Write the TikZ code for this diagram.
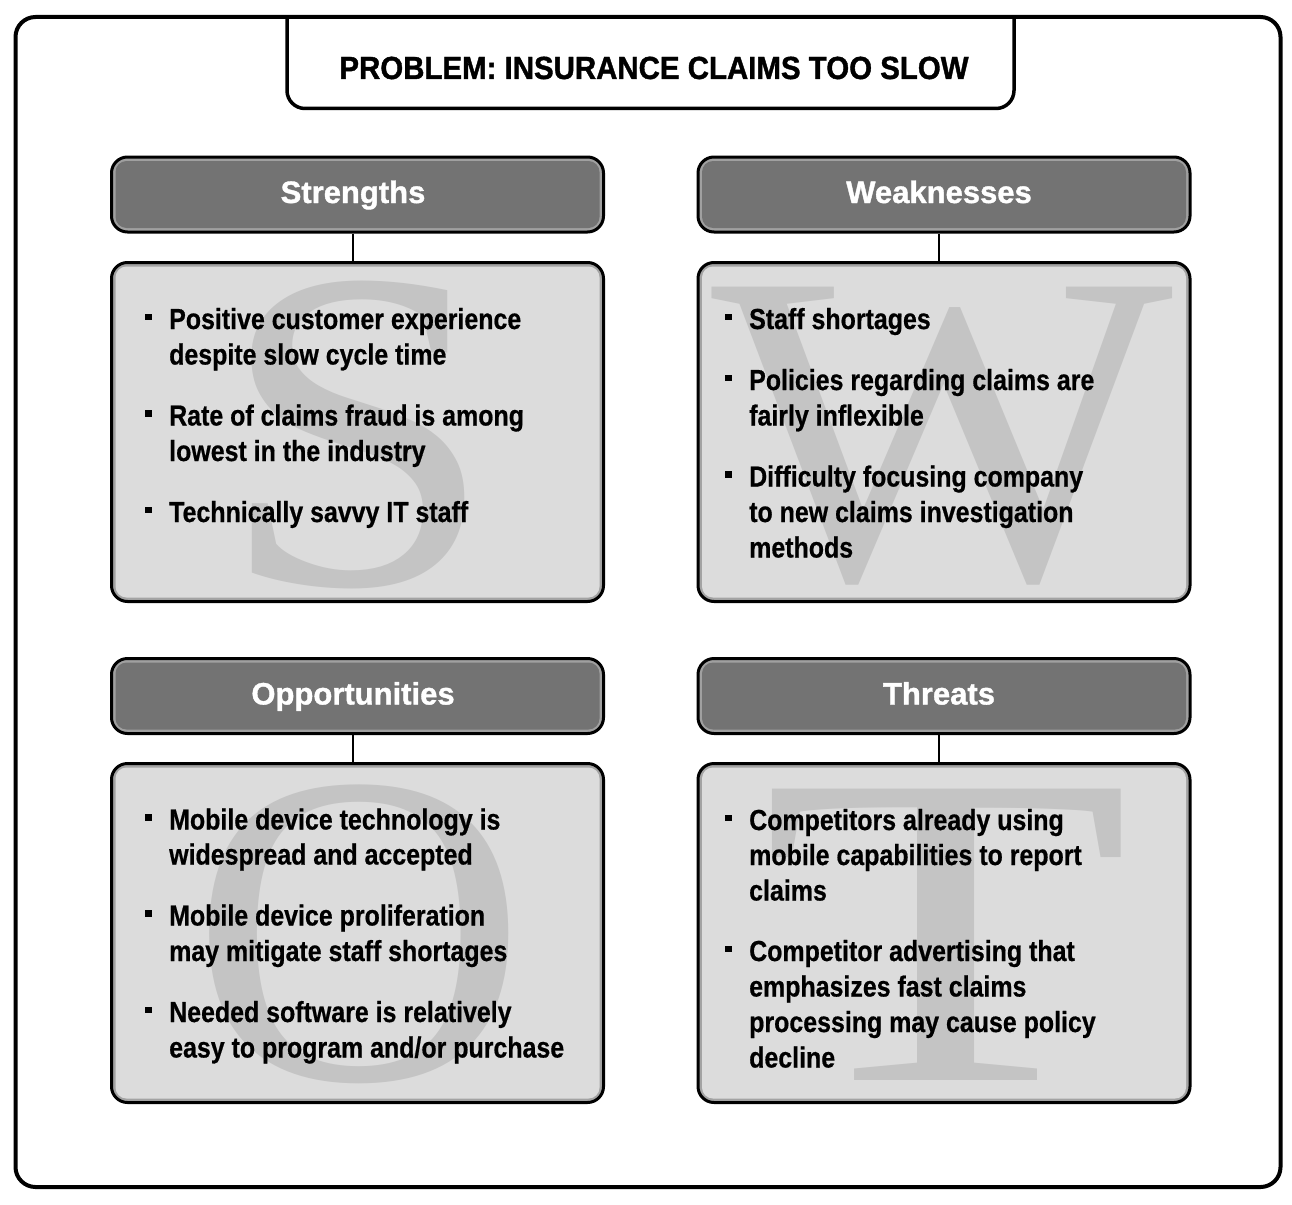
\documentclass[tikz,border=0pt]{standalone}
\usepackage{fontspec}
\setmainfont{Liberation Sans}
\newfontfamily\bodyfont{Liberation Sans}[FakeStretch=0.86,FakeBold=0.6]
\newfontfamily\headfont{Liberation Sans}[FakeStretch=0.92,FakeBold=1.2]
\newfontfamily\titlefont{Liberation Sans}[FakeBold=1.2]
\newfontfamily\wmfont{Liberation Serif}
\definecolor{titlefill}{HTML}{737373}
\definecolor{titlerim}{HTML}{A0A0A0}
\definecolor{bodyfill}{HTML}{DCDCDC}
\definecolor{bodyrim}{HTML}{A3A3A3}
\definecolor{wmcolor}{HTML}{C4C4C4}
\tikzset{
  framebox/.style={draw=black, line width=4pt, rounded corners=20pt, fill=white},
  titlebox/.style={draw=black, line width=3pt, rounded corners=16pt, fill=titlerim,
    minimum width=492pt, minimum height=75pt, inner sep=0pt},
  contentbox/.style={draw=black, line width=3pt, rounded corners=16pt, fill=bodyrim,
    minimum width=492pt, minimum height=339pt, inner sep=0pt},
  titletxt/.style={anchor=base, inner sep=0pt, text=white, font={\titlefont\bfseries\fontsize{31}{36}\selectfont}},
  headtxt/.style={anchor=base, inner sep=0pt, text=black, font={\headfont\bfseries\fontsize{32}{38}\selectfont}},
  bodytxt/.style={anchor=base west, inner sep=0pt, text=black, font={\bodyfont\bfseries\fontsize{29}{35}\selectfont}},
  wmtxt/.style={anchor=base, inner sep=0pt, text=wmcolor, font={\wmfont\fontsize{445}{445}\selectfont}},
  connector/.style={draw=black, line width=2.5pt},
}
\newcommand{\bodyline}[4]{\node[bodytxt] (#1) at (#2,#3) {#4};}
\newcommand{\bulletsq}[2]{\fill[black] (#1,#2-15.5) rectangle ++(6.5,6.5);}
\newcommand{\innerfill}[2]{\fill[#2, rounded corners=11pt] ([xshift=5.5pt,yshift=-5.5pt]#1.north west) rectangle ([xshift=-5.5pt,yshift=5.5pt]#1.south east);}
\begin{document}
\begin{tikzpicture}[x=1pt,y=-1pt]
\useasboundingbox[fill=white] (0,0) rectangle (1292,1204);
% outer frame
\node[framebox, minimum width=1265pt, minimum height=1170pt, inner sep=0pt] (frame) at (648,602) {};
% header
\draw[line width=3.5pt, rounded corners=18pt] (287,16) -- (287,108.5) -- (1014,108.5) -- (1014,16);
\node[headtxt] (header) at (654,79) {PROBLEM: INSURANCE CLAIMS TOO SLOW};

% ---------- Strengths ----------
\node[titlebox] (st) at (357.5,194.5) {};
\innerfill{st}{titlefill}
\node[titletxt] (stl) at (353,203) {Strengths};
\node[contentbox] (sc) at (357.5,432) {};
\innerfill{sc}{bodyfill}
\draw[connector] ([xshift=-4.5pt]st.south) -- ([xshift=-4.5pt]sc.north);
\node[wmtxt] (sw) at (357.5,584) {\scalebox{1.12}[1.03]{S}};
\bulletsq{145}{329}
\bodyline{s1a}{169}{329}{Positive customer experience}
\bodyline{s1b}{169}{364.5}{despite slow cycle time}
\bulletsq{145}{425.5}
\bodyline{s2a}{169}{425.5}{Rate of claims fraud is among}
\bodyline{s2b}{169}{461}{lowest in the industry}
\bulletsq{145}{522}
\bodyline{s3a}{169}{522}{Technically savvy IT staff}

% ---------- Weaknesses ----------
\node[titlebox] (wt) at (944,194.5) {};
\innerfill{wt}{titlefill}
\node[titletxt] (wtl) at (939,203) {Weaknesses};
\node[contentbox] (wc) at (944,432) {};
\innerfill{wc}{bodyfill}
\draw[connector] ([xshift=-5pt]wt.south) -- ([xshift=-5pt]wc.north);
\node[wmtxt] (ww) at (942.5,578) {\scalebox{1.1}[1.0]{W}};
\bulletsq{725}{329}
\bodyline{w1a}{749}{329}{Staff shortages}
\bulletsq{725}{390}
\bodyline{w2a}{749}{390}{Policies regarding claims are}
\bodyline{w2b}{749}{425.5}{fairly inflexible}
\bulletsq{725}{486.5}
\bodyline{w3a}{749}{486.5}{Difficulty focusing company}
\bodyline{w3b}{749}{522}{to new claims investigation}
\bodyline{w3c}{749}{557.5}{methods}

% ---------- Opportunities ----------
\node[titlebox] (ot) at (357.5,696) {};
\innerfill{ot}{titlefill}
\node[titletxt] (otl) at (353,704.5) {Opportunities};
\node[contentbox] (oc) at (357.5,933) {};
\innerfill{oc}{bodyfill}
\draw[connector] ([xshift=-4.5pt]ot.south) -- ([xshift=-4.5pt]oc.north);
\node[wmtxt] (ow) at (359.5,1079) {\scalebox{1.05}[1.0]{O}};
\bulletsq{145}{829.5}
\bodyline{o1a}{169}{829.5}{Mobile device technology is}
\bodyline{o1b}{169}{864.5}{widespread and accepted}
\bulletsq{145}{925.5}
\bodyline{o2a}{169}{925.5}{Mobile device proliferation}
\bodyline{o2b}{169}{961}{may mitigate staff shortages}
\bulletsq{145}{1022}
\bodyline{o3a}{169}{1022}{Needed software is relatively}
\bodyline{o3b}{169}{1057.5}{easy to program and/or purchase}

% ---------- Threats ----------
\node[titlebox] (tt) at (944,696) {};
\innerfill{tt}{titlefill}
\node[titletxt] (ttl) at (939,704.5) {Threats};
\node[contentbox] (tc) at (944,933) {};
\innerfill{tc}{bodyfill}
\draw[connector] ([xshift=-5pt]tt.south) -- ([xshift=-5pt]tc.north);
\node[wmtxt] (tw) at (946,1080) {\scalebox{1.36}[1.0]{T}};
\bulletsq{725}{830}
\bodyline{t1a}{749}{830}{Competitors already using}
\bodyline{t1b}{749}{865}{mobile capabilities to report}
\bodyline{t1c}{749}{900.5}{claims}
\bulletsq{725}{961}
\bodyline{t2a}{749}{961}{Competitor advertising that}
\bodyline{t2b}{749}{996.5}{emphasizes fast claims}
\bodyline{t2c}{749}{1032}{processing may cause policy}
\bodyline{t2d}{749}{1067.5}{decline}
\end{tikzpicture}
\end{document}
